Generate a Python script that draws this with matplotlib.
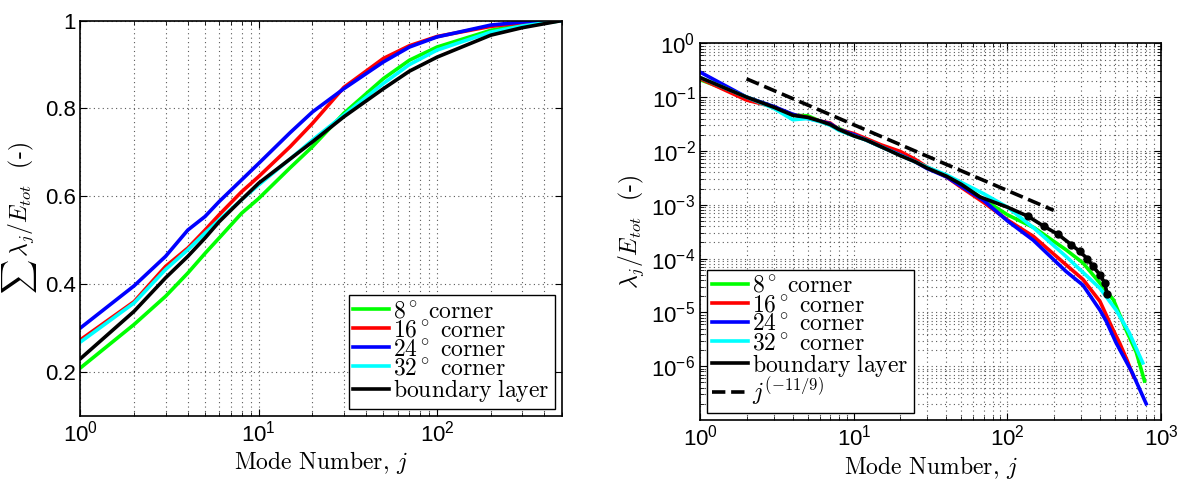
import numpy as np
import matplotlib
matplotlib.use('Agg')
import matplotlib.pyplot as plt
from matplotlib.ticker import FuncFormatter, LogLocator, NullLocator, MultipleLocator

plt.rcParams['font.family'] = 'Liberation Sans'
plt.rcParams['mathtext.fontset'] = 'cm'

# cumulative energy fraction vs mode number
j_cum = [1, 2, 3, 4, 5, 6, 8, 10, 15, 20, 30, 50, 70, 100, 200, 300, 497]
cum_8 = [0.209, 0.308, 0.372, 0.425, 0.47, 0.505, 0.561, 0.595, 0.665, 0.713, 0.789, 0.868,
         0.91, 0.94, 0.978, 0.99, 1.0]
cum_16 = [0.273, 0.36, 0.44, 0.482, 0.523, 0.558, 0.61, 0.645, 0.713, 0.766, 0.848, 0.914,
          0.943, 0.964, 0.987, 0.995, 1.0]
cum_24 = [0.30, 0.396, 0.463, 0.523, 0.554, 0.588, 0.637, 0.675, 0.745, 0.792, 0.845, 0.906,
          0.94, 0.963, 0.99, 0.997, 1.0]
cum_32 = [0.268, 0.357, 0.433, 0.478, 0.516, 0.546, 0.592, 0.626, 0.685, 0.728, 0.785, 0.857,
          0.9, 0.933, 0.974, 0.988, 1.0]
cum_bl = [0.23, 0.338, 0.414, 0.463, 0.505, 0.542, 0.592, 0.63, 0.685, 0.724, 0.781, 0.845,
          0.885, 0.917, 0.967, 0.984, 1.0]

# normalised eigenvalue spectra
j_8 = [1, 2, 3, 4, 5, 6, 7, 8, 10, 12, 15, 20, 25, 30, 40, 50, 70, 100, 150, 240, 310, 400,
       490, 590, 690, 780]
eig_8 = [0.21, 0.1, 0.066, 0.046, 0.045, 0.036, 0.031, 0.026, 0.02, 0.016, 0.012, 0.0087,
         0.0065, 0.0049, 0.0034, 0.0024, 0.00125, 6.5e-4, 3.7e-4, 1.46e-4, 8.3e-5, 3.5e-5,
         1.7e-5, 4.8e-6, 1.8e-6, 5.3e-7]
j_16 = [1, 2, 3, 4, 5, 6, 7, 8, 10, 12, 15, 20, 25, 30, 40, 50, 70, 100, 147, 240, 310, 400,
        486, 537, 600, 660]
eig_16 = [0.22, 0.088, 0.066, 0.047, 0.042, 0.036, 0.033, 0.025, 0.021, 0.017, 0.013, 0.0098,
          0.007, 0.005, 0.0033, 0.0021, 0.0011, 5.2e-4, 2.6e-4, 7.7e-5, 4.1e-5, 1.6e-5,
          4.8e-6, 2.7e-6, 1.3e-6, 6.5e-7]
j_24 = [1, 2, 3, 4, 5, 6, 7, 8, 10, 12, 15, 20, 25, 30, 40, 50, 70, 100, 147, 240, 310, 400,
        440, 510, 650, 800]
eig_24 = [0.29, 0.1, 0.067, 0.048, 0.04, 0.036, 0.032, 0.025, 0.02, 0.016, 0.012, 0.0085,
          0.0063, 0.0047, 0.0033, 0.0022, 0.0012, 5.0e-4, 2.2e-4, 5.8e-5, 3.2e-5, 1.1e-5,
          6.8e-6, 2.7e-6, 7.5e-7, 2.0e-7]
j_32 = [1, 2, 3, 4, 5, 6, 7, 8, 10, 12, 15, 20, 25, 30, 40, 50, 70, 100, 150, 240, 400, 510,
        620, 760]
eig_32 = [0.23, 0.1, 0.062, 0.038, 0.04, 0.035, 0.03, 0.024, 0.019, 0.016, 0.012, 0.0083,
          0.0063, 0.005, 0.0036, 0.0026, 0.0016, 9e-4, 3.6e-4, 1.1e-4, 2.8e-5, 1.1e-5, 4.2e-6,
          1.15e-6]
j_bl = [1, 2, 3, 4, 5, 6, 7, 8, 10, 12, 15, 20, 25, 30, 40, 50, 66, 100, 136, 172, 214, 261,
        295, 330, 360, 400, 430, 445]
eig_bl = [0.23, 0.1, 0.065, 0.046, 0.042, 0.036, 0.031, 0.025, 0.019, 0.016, 0.012, 0.0082,
          0.0063, 0.0048, 0.0034, 0.0024, 0.0014, 9e-4, 6.1e-4, 4e-4, 2.8e-4, 1.8e-4, 1.36e-4,
          1.0e-4, 7.2e-5, 5.0e-5, 3.5e-5, 2.2e-5]

# reference power law j^(-11/9)
j_ref = [2, 200]
ref_coef = 0.51
ref_exp = -11.0 / 9.0

labels = [r'$8^\circ\ \mathrm{corner}$', r'$16^\circ\ \mathrm{corner}$',
          r'$24^\circ\ \mathrm{corner}$', r'$32^\circ\ \mathrm{corner}$',
          r'$\mathrm{boundary\ layer}$']
colors = ['#00ff00', '#ff0000', '#0000ff', '#00ffff', '#000000']

lw = 2.6
label_font = dict(family='cmr10', size=17)
grid_kw = dict(linestyle=(0, (1, 3)), linewidth=0.8, color='0.35')
legend_kw = dict(prop=dict(size=17), handlelength=1.5, handletextpad=0.2,
                 labelspacing=-0.12, borderpad=0.2, borderaxespad=0.3, fancybox=False,
                 edgecolor='black', framealpha=1)


def pow10(v, pos):
    return r'$\mathregular{10^{%d}}$' % int(round(np.log10(v)))


def style_axes(ax):
    ax.tick_params(which='both', direction='in', top=True, right=True, labelsize=16)
    ax.tick_params(which='major', length=5, width=0.8)
    ax.tick_params(which='minor', length=3, width=0.6)
    for s in ax.spines.values():
        s.set_linewidth(1.2)


fig = plt.figure(figsize=(11.82, 4.79), dpi=100)

# cumulative energy
ax1 = fig.add_axes([0.0681, 0.1322, 0.4071, 0.8246])
cum_sets = [cum_8, cum_16, cum_24, cum_32, cum_bl]
for vals, c, lab in zip(cum_sets, colors, labels):
    ax1.plot(j_cum, vals, color=c, lw=lw, label=lab)
ax1.set_xscale('log')
ax1.set_xlim(1, 500)
ax1.set_ylim(0.1, 1.0)
ax1.yaxis.set_major_locator(MultipleLocator(0.2))
ax1.yaxis.set_major_formatter(FuncFormatter(lambda v, p: ('%g' % round(v, 1))))
ax1.yaxis.set_minor_locator(NullLocator())
ax1.xaxis.set_major_locator(LogLocator(base=10))
ax1.xaxis.set_minor_locator(LogLocator(base=10, subs=np.arange(2, 10)))
ax1.xaxis.set_major_formatter(FuncFormatter(pow10))
ax1.grid(True, which='major', **grid_kw)
ax1.grid(True, which='minor', axis='x', **grid_kw)
style_axes(ax1)
ax1.set_xlabel('Mode Number, $j$', fontdict=label_font, labelpad=2)
ax1.set_ylabel('$\\sum\\,\\lambda_j/E_{tot}$  (-)', fontdict=label_font, labelpad=4)
leg1 = ax1.legend(loc='lower right', **legend_kw)
leg1.get_frame().set_linewidth(1.0)

# eigenvalue spectrum
ax2 = fig.add_axes([0.5925, 0.1232, 0.3898, 0.7864])
spec = [(j_8, eig_8), (j_16, eig_16), (j_24, eig_24), (j_32, eig_32)]
for (jj, vals), c, lab in zip(spec, colors[:4], labels[:4]):
    ax2.plot(jj, vals, color=c, lw=lw, label=lab)
ax2.plot(j_bl, eig_bl, color='black', lw=lw, marker='o', ms=5,
         markevery=list(range(18, len(j_bl))))
# legend handle for the boundary layer drawn without markers
ax2.plot([], [], color='black', lw=lw, label=labels[4])
ref_j = np.array(j_ref, dtype=float)
ax2.plot(ref_j, ref_coef * ref_j ** ref_exp, color='black', lw=2.6, ls='--',
         label='$j^{(-11/9)}$')
ax2.set_xscale('log')
ax2.set_yscale('log')
ax2.set_xlim(1, 1000)
ax2.set_ylim(1e-7, 1)
for axis in (ax2.xaxis, ax2.yaxis):
    axis.set_major_locator(LogLocator(base=10, numticks=20))
    axis.set_minor_locator(LogLocator(base=10, subs=np.arange(2, 10), numticks=20))
    axis.set_major_formatter(FuncFormatter(pow10))
ax2.set_yticks([1e0, 1e-1, 1e-2, 1e-3, 1e-4, 1e-5, 1e-6])
ax2.grid(True, which='both', **grid_kw)
style_axes(ax2)
ax2.set_xlabel('Mode Number, $j$', fontdict=label_font, labelpad=2)
ax2.set_ylabel('$\\lambda_j/E_{tot}$  (-)', fontdict=label_font, labelpad=4)
leg2 = ax2.legend(loc='lower left', **legend_kw)
leg2.get_frame().set_linewidth(1.0)

fig.savefig('out.png', dpi=100)
